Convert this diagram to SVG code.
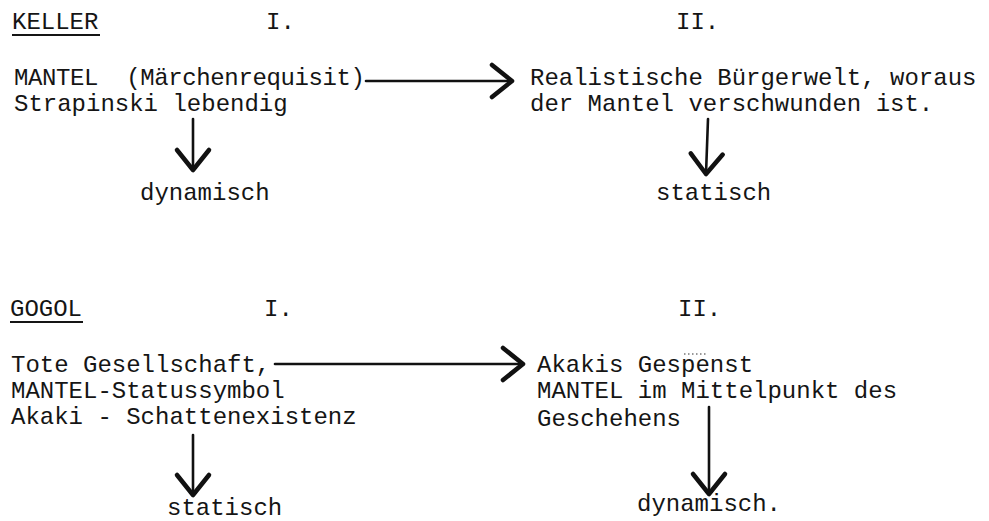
<svg xmlns="http://www.w3.org/2000/svg" width="989" height="521" viewBox="0 0 989 521">
<style>
text{font-family:"Liberation Mono","DejaVu Sans Mono",monospace;font-size:24px;fill:#151515;white-space:pre}
.ul{stroke:#151515;stroke-width:2}
.con{fill:none;stroke:#111;stroke-width:2.6;stroke-linecap:round}
</style>
<defs>
<marker id="ah" markerUnits="userSpaceOnUse" markerWidth="40" markerHeight="40" viewBox="-20 -15 24 30" refX="0" refY="0" orient="auto" overflow="visible">
<path d="M-15,-12 L0,0 L-15,12" fill="none" stroke="#111" stroke-width="3.4" stroke-linecap="round" stroke-linejoin="round"/>
</marker>
</defs>
<rect width="989" height="521" fill="#fff"/>
<g id="keller-title"><text x="12" y="29">KELLER</text><line class="ul" x1="12" y1="35" x2="100" y2="35"/></g>
<g id="keller-I"><text x="266" y="29">I.</text></g>
<g id="keller-II"><text x="676" y="29">II.</text></g>
<g id="keller-1"><text x="14" y="85" xml:space="preserve" textLength="351" lengthAdjust="spacing">MANTEL  (Märchenrequisit)</text><text x="14" y="111">Strapinski lebendig</text></g>
<g id="keller-2"><text x="530" y="85">Realistische Bürgerwelt, woraus</text><text x="530" y="111">der Mantel verschwunden ist.</text></g>
<g id="keller-dyn"><text x="140" y="200">dynamisch</text></g>
<g id="keller-stat"><text x="656" y="200">statisch</text></g>
<g id="gogol-title"><text x="10" y="316">GOGOL</text><line class="ul" x1="10" y1="322" x2="83" y2="322"/></g>
<g id="gogol-I"><text x="264" y="316">I.</text></g>
<g id="gogol-II"><text x="678" y="316">II.</text></g>
<g id="gogol-1"><text x="11" y="372">Tote Gesellschaft,</text><text x="11" y="398">MANTEL-Statussymbol</text><text x="11" y="424">Akaki - Schattenexistenz</text></g>
<g id="gogol-2"><text x="537" y="372">Akakis Gespenst</text><line x1="684" y1="354" x2="706" y2="354" stroke="#333" stroke-width="1.2" stroke-dasharray="1.5 2.5"/><text x="537" y="398">MANTEL im Mittelpunkt des</text><text x="537" y="426">Geschehens</text></g>
<g id="gogol-stat"><text x="167" y="515">statisch</text></g>
<g id="gogol-dyn"><text x="637" y="511">dynamisch.</text></g>
<g id="connectors">
<path class="con" d="M366,81 L512,81" marker-end="url(#ah)"/>
<path class="con" d="M193,119 L193,170" marker-end="url(#ah)"/>
<path class="con" d="M708,119 L706,174" marker-end="url(#ah)"/>
<path class="con" d="M275,364 L523,364" marker-end="url(#ah)"/>
<path class="con" d="M193,435 L193,495" marker-end="url(#ah)"/>
<path class="con" d="M709,407 L709,494" marker-end="url(#ah)"/>
</g>
</svg>
